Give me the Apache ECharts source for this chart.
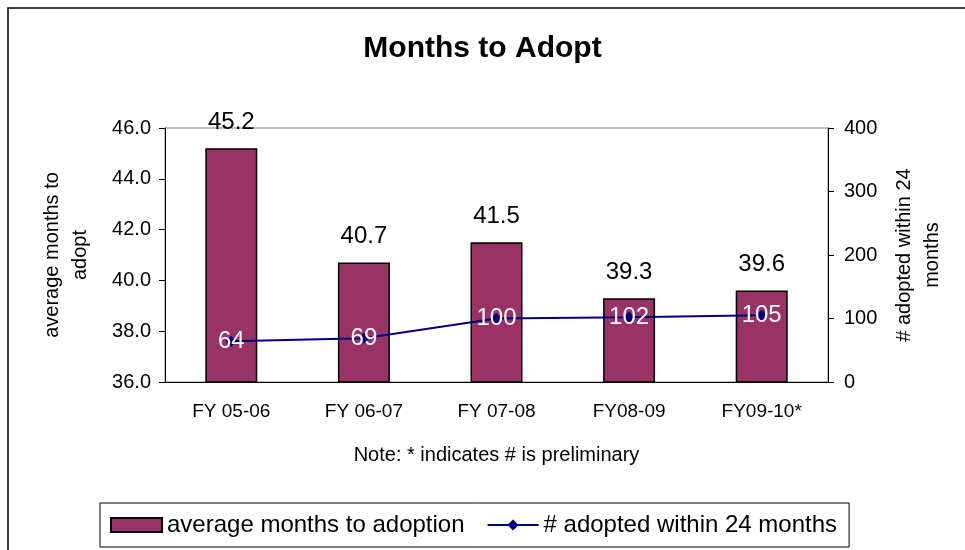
<!DOCTYPE html>
<html>
<head>
<meta charset="utf-8">
<script src="https://cdn.jsdelivr.net/npm/echarts@6/dist/echarts.min.js"></script>
<style>
  html, body { margin: 0; padding: 0; background: #fff; }
  #chart { width: 965px; height: 550px; }
</style>
</head>
<body>
<div id="chart"></div>
<script>
const categories = ['FY 05-06', 'FY 06-07', 'FY 07-08', 'FY08-09', 'FY09-10*']
const avgMonths = [45.2, 40.7, 41.5, 39.3, 39.6]
const adopted24 = [64, 69, 100, 102, 105]
const leftTicks = { min: 36, max: 46, interval: 2 }
const rightTicks = { min: 0, max: 400, interval: 100 }

const font = 'Liberation Sans, Arial, sans-serif'
const myChart = echarts.init(document.getElementById('chart'))

let option = {
  animation: false,
  textStyle: { fontFamily: font, color: '#000' },
  title: {
    text: 'Months to Adopt',
    left: 'center',
    top: 29,
    textStyle: { fontSize: 30, fontWeight: 'bold', color: '#000', fontFamily: font }
  },
  graphic: [{
    type: 'rect',
    shape: { x: 8, y: 8, width: 1000, height: 600 },
    style: { fill: 'none', stroke: '#000', lineWidth: 1.5 },
    silent: true
  }],
  legend: {
    left: 100,
    top: 503,
    padding: [10, 12, 10, 10],
    borderColor: '#000',
    borderWidth: 1,
    itemWidth: 51,
    itemHeight: 14,
    itemGap: 22,
    textStyle: { fontSize: 24, color: '#000', fontFamily: font },
    data: [
      { name: 'average months to adoption', icon: 'rect' },
      { name: '# adopted within 24 months' }
    ]
  },
  grid: {
    left: 165,
    right: 137,
    top: 128,
    bottom: 168,
    show: true,
    borderColor: '#808080',
    borderWidth: 1,
    backgroundColor: 'transparent'
  },
  xAxis: {
    type: 'category',
    data: categories,
    name: 'Note: * indicates # is preliminary',
    nameLocation: 'middle',
    nameGap: 63,
    nameTextStyle: { fontSize: 20, color: '#000' },
    axisLine: { lineStyle: { color: '#000' } },
    axisTick: { length: 6, lineStyle: { color: '#000' } },
    axisLabel: { fontSize: 19, color: '#000', margin: 20 }
  },
  yAxis: [{
    type: 'value',
    min: leftTicks.min,
    max: leftTicks.max,
    interval: leftTicks.interval,
    name: 'average months to\nadopt',
    nameLocation: 'middle',
    nameGap: 71,
    nameTextStyle: { fontSize: 20, color: '#000', lineHeight: 28 },
    axisLine: { show: true, lineStyle: { color: '#000' } },
    axisTick: { show: true, length: 6, lineStyle: { color: '#000' } },
    axisLabel: { fontSize: 20, color: '#000', margin: 14, formatter: v => v.toFixed(1) },
    splitLine: { show: false }
  }, {
    type: 'value',
    position: 'right',
    min: rightTicks.min,
    max: rightTicks.max,
    interval: rightTicks.interval,
    name: '# adopted within 24\nmonths',
    nameLocation: 'middle',
    nameGap: 62,
    nameTextStyle: { fontSize: 20, color: '#000', lineHeight: 28 },
    axisLine: { show: true, lineStyle: { color: '#000' } },
    axisTick: { show: true, length: 6, lineStyle: { color: '#000' } },
    axisLabel: { fontSize: 20, color: '#000', margin: 16 },
    splitLine: { show: false }
  }],
  series: [{
    name: 'average months to adoption',
    type: 'bar',
    yAxisIndex: 0,
    barWidth: 52,
    data: avgMonths,
    itemStyle: { color: '#993366', borderColor: '#000', borderWidth: 1.5 },
    label: {
      show: true,
      position: 'top',
      distance: 14,
      fontSize: 24,
      color: '#000',
      formatter: p => p.value.toFixed(1)
    }
  }, {
    name: '# adopted within 24 months',
    type: 'line',
    yAxisIndex: 1,
    data: adopted24,
    symbol: 'diamond',
    symbolSize: 11,
    lineStyle: { color: '#000080', width: 2 },
    itemStyle: { color: '#000080' },
    label: {
      show: true,
      position: 'inside',
      fontSize: 24,
      color: '#fff'
    },
    z: 3
  }]
}
myChart.setOption(option)
</script>
</body>
</html>
